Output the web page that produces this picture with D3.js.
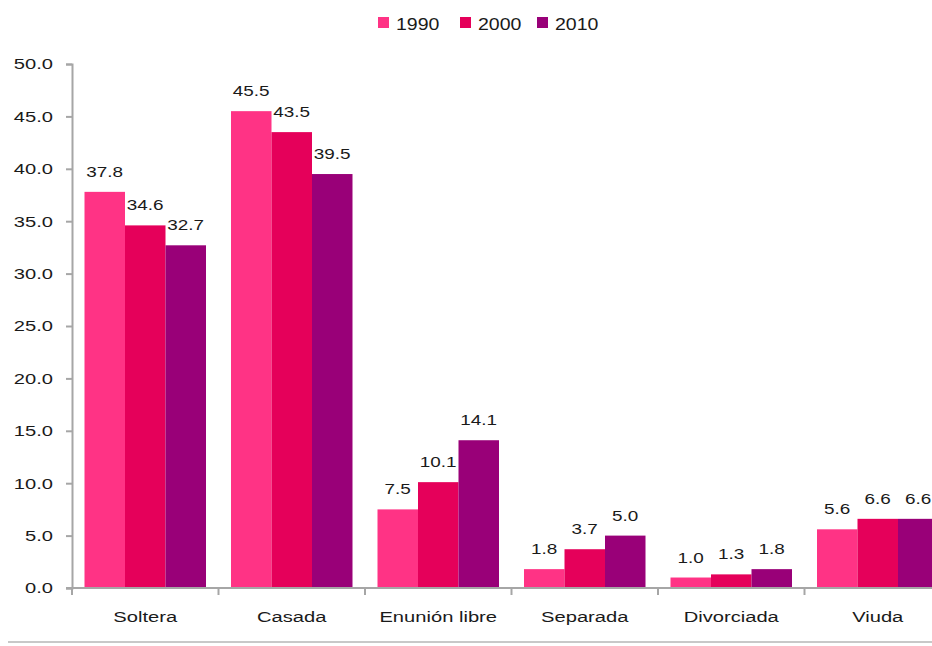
<!DOCTYPE html>
<html>
<head>
<meta charset="utf-8">
<script src="https://cdn.jsdelivr.net/npm/d3@7"></script>
<style>
  body { margin: 0; background: #fff; }
  svg { display: block; font-family: "Liberation Sans", Arial, sans-serif; }
</style>
</head>
<body>
<svg id="chart" width="932" height="646"></svg>
<script>
const categories = ["Soltera", "Casada", "Enunión libre", "Separada", "Divorciada", "Viuda"];
const seriesNames = ["1990", "2000", "2010"];
const values1990 = [37.8, 45.5, 7.5, 1.8, 1.0, 5.6];
const values2000 = [34.6, 43.5, 10.1, 3.7, 1.3, 6.6];
const values2010 = [32.7, 39.5, 14.1, 5.0, 1.8, 6.6];
const yTicks = [0, 5, 10, 15, 20, 25, 30, 35, 40, 45, 50];
const colors = ["#ff3385", "#e5005a", "#990078"];

const allSeries = [values1990, values2000, values2010];

const svg = d3.select("#chart");
const plotLeft = 72, plotBottom = 588, plotTop = 64, step = 146.5;
const stretchX = 1.3;

// the source text is drawn wide, so stretch each label horizontally
function stretch(sel, s) {
  sel.each(function () {
    const x = +this.getAttribute("x") || 0;
    this.setAttribute("x", x / s);
    this.setAttribute("transform", `scale(${s},1)`);
  });
}

const x0 = d3.scaleBand()
  .domain(categories)
  .range([plotLeft, plotLeft + step * categories.length])
  .padding(0);

const x1 = d3.scaleBand()
  .domain(seriesNames)
  .range([12.5, 134]);

const y = d3.scaleLinear().domain([0, 50]).range([plotBottom, plotTop]);

// y axis
const yAxis = svg.append("g")
  .attr("transform", `translate(${plotLeft},0)`)
  .call(d3.axisLeft(y).tickValues(yTicks).tickFormat(d3.format(".1f")).tickSize(6).tickPadding(13));
yAxis.select(".domain").attr("stroke", "#a6a6a6").attr("stroke-width", 2);
yAxis.selectAll(".tick line").attr("stroke", "#a6a6a6").attr("stroke-width", 2);
yAxis.selectAll(".tick text").attr("font-size", 15.5).attr("fill", "#1a1a1a")
  .attr("font-family", "Liberation Sans, Arial, sans-serif");
stretch(yAxis.selectAll(".tick text"), stretchX);

// bars
const groups = svg.append("g").selectAll("g")
  .data(categories)
  .enter().append("g")
  .attr("transform", d => `translate(${x0(d)},0)`);

groups.selectAll("rect")
  .data((d, i) => seriesNames.map((s, j) => ({ s: s, v: allSeries[j][i], j: j })))
  .enter().append("rect")
  .attr("x", d => x1(d.s))
  .attr("y", d => y(d.v))
  .attr("width", x1.bandwidth())
  .attr("height", d => plotBottom - y(d.v))
  .attr("fill", d => colors[d.j]);

const valueLabels = groups.selectAll("text")
  .data((d, i) => seriesNames.map((s, j) => ({ s: s, v: allSeries[j][i], j: j })))
  .enter().append("text")
  .attr("x", d => x1(d.s) + x1.bandwidth() / 2)
  .attr("y", d => y(d.v) - 15)
  .attr("text-anchor", "middle")
  .attr("font-size", 15.5)
  .attr("fill", "#1a1a1a")
  .text(d => d.v.toFixed(1));
stretch(valueLabels, 1.22);

// x axis
const xAxis = svg.append("g")
  .attr("transform", `translate(0,${plotBottom})`);
xAxis.append("line")
  .attr("x1", plotLeft - 6).attr("x2", 932)
  .attr("stroke", "#a6a6a6").attr("stroke-width", 2);
xAxis.selectAll(".xtick")
  .data(categories)
  .enter().append("line")
  .attr("x1", d => x0(d)).attr("x2", d => x0(d))
  .attr("y1", 0).attr("y2", 7)
  .attr("stroke", "#a6a6a6").attr("stroke-width", 2);
const catLabels = xAxis.selectAll(".xlabel")
  .data(categories)
  .enter().append("text")
  .attr("x", d => x0(d) + step / 2)
  .attr("y", 34)
  .attr("text-anchor", "middle")
  .attr("font-size", 15.5)
  .attr("fill", "#1a1a1a")
  .text(d => d);
stretch(catLabels, stretchX);

// bottom rule
svg.append("line")
  .attr("x1", 8).attr("x2", 932)
  .attr("y1", 642).attr("y2", 642)
  .attr("stroke", "#c8c8c8").attr("stroke-width", 2);

// legend
const legendX = [372, 454, 531];
const legend = svg.append("g").selectAll("g")
  .data(seriesNames)
  .enter().append("g")
  .attr("transform", (d, i) => `translate(${legendX[i]},0)`);
legend.append("rect")
  .attr("x", 6).attr("y", 17).attr("width", 11).attr("height", 11)
  .attr("fill", (d, i) => colors[i]);
const legendText = legend.append("text")
  .attr("x", 24).attr("y", 30)
  .attr("font-size", 16)
  .attr("fill", "#1a1a1a")
  .text(d => d);
stretch(legendText, 1.22);
</script>
</body>
</html>
